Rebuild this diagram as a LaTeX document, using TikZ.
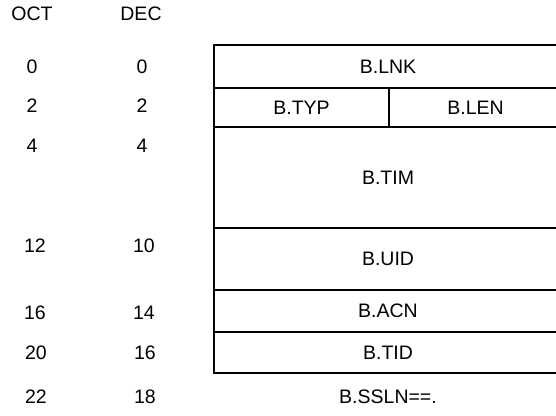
\documentclass[tikz,border=0pt]{standalone}
\usepackage{fontspec}
\setmainfont{Liberation Sans}
\begin{document}
\begin{tikzpicture}[x=1pt,y=-1pt,
  field/.style={draw, line width=1.8pt, inner sep=0pt, outer sep=0pt, anchor=north west,
    minimum width=348pt, font=\fontsize{19.5}{22}\selectfont},
  lbl/.style={inner sep=0pt, font=\fontsize{19.5}{22}\selectfont}]
\useasboundingbox (0,0) rectangle (556,415);
\clip (0,0) rectangle (556,415);
% header
\node[lbl] (oct) at (32,14) {OCT};
\node[lbl] (dec) at (141,14) {DEC};
% fields
\node[field, minimum height=43pt] (lnk) at (214,45) {B.LNK};
\node[field, minimum width=175pt, minimum height=39pt] (typ) at (214,88) {B.TYP};
\node[field, minimum width=173pt, minimum height=39pt] (len) at (389,88) {B.LEN};
\node[field, minimum height=101pt] (tim) at (214,127) {B.TIM};
\node[field, minimum height=62pt] (uid) at (214,228) {B.UID};
\node[field, minimum height=42pt] (acn) at (214,290) {B.ACN};
\node[field, minimum height=41pt] (tid) at (214,332) {B.TID};
\node[lbl, anchor=base] (ssln) at (388,403) {B.SSLN==.};
% offsets
\node[lbl] (o0) at (32,67) {0};   \node[lbl] (d0) at (142,67) {0};
\node[lbl] (o2) at (32,106) {2};  \node[lbl] (d2) at (142,106) {2};
\node[lbl] (o4) at (32,146) {4};  \node[lbl] (d4) at (142,146) {4};
\node[lbl] (o12) at (35,246) {12}; \node[lbl] (d10) at (144,246) {10};
\node[lbl] (o16) at (35,313) {16}; \node[lbl] (d14) at (144,313) {14};
\node[lbl] (o20) at (36,353) {20}; \node[lbl] (d16) at (145,353) {16};
\node[lbl, anchor=base] (o22) at (36,403) {22}; \node[lbl, anchor=base] (d18) at (145,403) {18};
\end{tikzpicture}
\end{document}
